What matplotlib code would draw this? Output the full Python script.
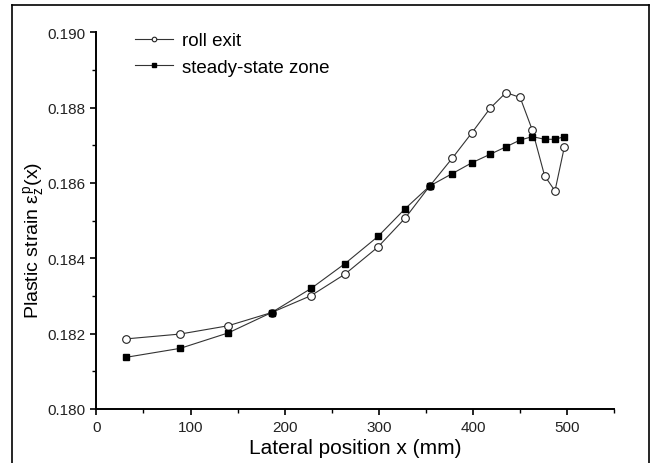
import matplotlib.pyplot as plt
from matplotlib.lines import Line2D
from matplotlib.ticker import MultipleLocator

plt.rcParams['font.family'] = ['Liberation Sans', 'DejaVu Sans']
plt.rcParams['mathtext.fontset'] = 'custom'
plt.rcParams['mathtext.rm'] = 'Liberation Sans'
plt.rcParams['mathtext.it'] = 'Liberation Sans'

# lateral positions (mm)
x_pos = [31, 89, 140, 186, 228, 264, 299, 328, 354, 378, 399, 418, 435, 450, 463, 476, 487, 497]

roll_exit = [0.18186, 0.18199, 0.18221, 0.18256, 0.18301, 0.18358, 0.18430, 0.18507, 0.18592,
             0.18666, 0.18734, 0.18798, 0.18840, 0.18827, 0.18740, 0.18619, 0.18579, 0.18696]

steady_state = [0.18137, 0.18161, 0.18202, 0.18256, 0.18320, 0.18386, 0.18458, 0.18532, 0.18592,
                0.18625, 0.18654, 0.18676, 0.18696, 0.18714, 0.18723, 0.18716, 0.18716, 0.18723]

W, H = 654, 464
fig = plt.figure(figsize=(W / 100, H / 100), dpi=100)
ax = fig.add_axes([96.4 / W, 1 - 410 / H, (614.3 - 96.4) / W, (410 - 33.3) / H])

ax.plot(x_pos, roll_exit, color='#333333', lw=0.8, marker='o', ms=5.5,
        mfc='white', mec='#222222', mew=0.8, label='roll exit')
ax.plot(x_pos, steady_state, color='#333333', lw=0.8, marker='s', ms=5,
        mfc='black', mec='black', label='steady-state zone')

ax.set_xlim(0, 550)
ax.set_ylim(0.180, 0.190)
ax.set_xticks([0, 100, 200, 300, 400, 500])
ax.set_yticks([0.180, 0.182, 0.184, 0.186, 0.188, 0.190])
ax.set_yticklabels(['0.180', '0.182', '0.184', '0.186', '0.188', '0.190'])
ax.xaxis.set_minor_locator(MultipleLocator(50))
ax.yaxis.set_minor_locator(MultipleLocator(0.001))

ax.spines['top'].set_visible(False)
ax.spines['right'].set_visible(False)
ax.spines['left'].set_linewidth(1.4)
ax.spines['bottom'].set_linewidth(1.4)
ax.tick_params(which='major', direction='out', length=4.5, width=1.2,
               labelsize=11, labelcolor='#222222')
ax.tick_params(which='minor', direction='out', length=3, width=1.0)

ax.set_xlabel('Lateral position x (mm)', fontsize=15, labelpad=3)
ax.set_ylabel(r'Plastic strain $\varepsilon_z^p$(x)', fontsize=14)
ax.yaxis.set_label_coords(-0.095, 0.45)

ax.legend(loc='upper left', bbox_to_anchor=(135 / W, 1 - 33 / H),
          bbox_transform=fig.transFigure, frameon=False, fontsize=13.5,
          borderpad=0, borderaxespad=0, handlelength=2.0, handletextpad=0.5,
          labelspacing=0.52, markerscale=0.6)

# outer frame of the figure
fig.add_artist(Line2D([12 / W, 12 / W], [0, 1 - 6 / H], color='black', lw=1.2))
fig.add_artist(Line2D([12 / W, 649 / W], [1 - 6 / H, 1 - 6 / H], color='black', lw=1.2))
fig.add_artist(Line2D([649 / W, 649 / W], [0, 1 - 6 / H], color='black', lw=1.2))

fig.savefig('out.png', dpi=100)
